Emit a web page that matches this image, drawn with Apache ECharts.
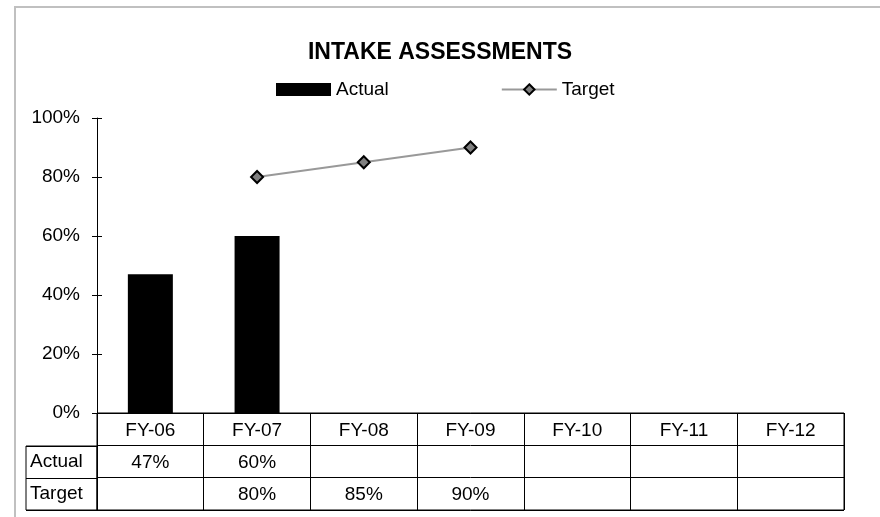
<!DOCTYPE html>
<html>
<head>
<meta charset="utf-8">
<script src="https://cdn.jsdelivr.net/npm/echarts@6/dist/echarts.min.js"></script>
<style>
  html, body { margin: 0; padding: 0; background: #fff; }
  #chart { width: 880px; height: 517px; }
</style>
</head>
<body>
<div id="chart"></div>
<script>
var years = ['FY-06', 'FY-07', 'FY-08', 'FY-09', 'FY-10', 'FY-11', 'FY-12'];
var actual = [47, 60, null, null, null, null, null];
var target = [null, 80, 85, 90, null, null, null];
var rowNames = ['Target', 'Actual', ''];   // table rows, bottom to top

var chart = echarts.init(document.getElementById('chart'));
var font = 'Liberation Sans, Arial, sans-serif';
var fs = 19;

// cells of the data table
function tableCells(values, row) {
    var cells = [];
    for (var i = 0; i < values.length; i++) {
        if (values[i] != null) {
            cells.push({ value: [years[i], row], txt: values[i] + '%' });
        }
    }
    return cells;
}

var option = {
    animation: false,
    textStyle: { fontFamily: font },
    title: {
        text: 'INTAKE ASSESSMENTS',
        left: 'center',
        top: 36,
        textStyle: { fontSize: 23, fontWeight: 'bold', color: '#000', fontFamily: font }
    },
    legend: {
        top: 75,
        left: 271,
        itemWidth: 55,
        itemHeight: 13,
        itemGap: 112,
        textStyle: { fontSize: fs, color: '#000', fontFamily: font },
        data: [{ name: 'Actual', icon: 'rect' }, 'Target']
    },
    graphic: [{
        type: 'rect',
        shape: { x: 15, y: 7, width: 900, height: 540 },
        style: { fill: null, stroke: '#c0c0c0', lineWidth: 2 },
        silent: true,
        z: -10
    }],
    grid: [
        { left: 97, right: 36, top: 118, bottom: 104 },
        { left: 97, right: 36, top: 413, height: 97, show: true, borderColor: '#000', borderWidth: 1 },
        { left: 26, width: 71, top: 446, height: 64, show: true, borderColor: '#000', borderWidth: 1 }
    ],
    xAxis: [
        {
            gridIndex: 0,
            type: 'category',
            data: years,
            axisLine: { lineStyle: { color: '#000' } },
            axisTick: { show: false },
            axisLabel: { margin: 8, fontSize: fs, color: '#000', fontFamily: font }
        },
        {
            gridIndex: 1,
            type: 'category',
            data: years,
            axisLine: { show: false },
            axisTick: { show: false },
            axisLabel: { show: false },
            splitLine: { show: true, lineStyle: { color: '#000', width: 1 } }
        },
        {
            gridIndex: 2,
            type: 'value',
            min: 0, max: 1,
            show: false
        }
    ],
    yAxis: [
        {
            gridIndex: 0,
            type: 'value',
            min: 0,
            max: 100,
            interval: 20,
            axisLine: { show: true, lineStyle: { color: '#000' } },
            axisTick: { show: true, length: 5, lineStyle: { color: '#000' } },
            splitLine: { show: false },
            axisLabel: { formatter: '{value}%', margin: 17, fontSize: fs, color: '#000', fontFamily: font }
        },
        {
            gridIndex: 1,
            type: 'category',
            data: rowNames,
            axisLine: { show: false },
            axisTick: { show: false },
            axisLabel: { show: false },
            splitLine: { show: true, lineStyle: { color: '#000', width: 1 } }
        },
        {
            gridIndex: 2,
            type: 'category',
            data: rowNames.slice(0, 2),
            axisLine: { show: false },
            axisTick: { show: false },
            axisLabel: { inside: true, margin: 4, fontSize: fs, color: '#000', fontFamily: font },
            splitLine: { show: true, lineStyle: { color: '#000', width: 1 } }
        },
        {
            // inner half of the crossing ticks
            gridIndex: 0,
            type: 'value',
            position: 'left',
            min: 0,
            max: 100,
            interval: 20,
            axisLine: { show: false },
            axisTick: { show: true, inside: true, length: 5, lineStyle: { color: '#000' } },
            axisLabel: { show: false },
            splitLine: { show: false }
        }
    ],
    series: [
        {
            name: 'Actual',
            type: 'bar',
            xAxisIndex: 0, yAxisIndex: 0,
            barWidth: 45,
            itemStyle: { color: '#000' },
            data: actual
        },
        {
            name: 'Target',
            type: 'line',
            xAxisIndex: 0, yAxisIndex: 0,
            symbol: 'diamond',
            symbolSize: 12,
            showAllSymbol: true,
            lineStyle: { color: '#999', width: 2 },
            itemStyle: { color: '#808080', borderColor: '#000', borderWidth: 2 },
            data: target
        },
        {
            name: 'table',
            type: 'scatter',
            xAxisIndex: 1, yAxisIndex: 1,
            symbolSize: 0,
            silent: true,
            itemStyle: { opacity: 1 },
            label: {
                show: true,
                position: 'inside',
                offset: [0, 1],
                fontSize: fs,
                color: '#000',
                fontFamily: font,
                formatter: function (p) { return p.data.txt; }
            },
            data: tableCells(actual, 'Actual').concat(tableCells(target, 'Target'))
        }
    ]
};

chart.setOption(option);
</script>
</body>
</html>
